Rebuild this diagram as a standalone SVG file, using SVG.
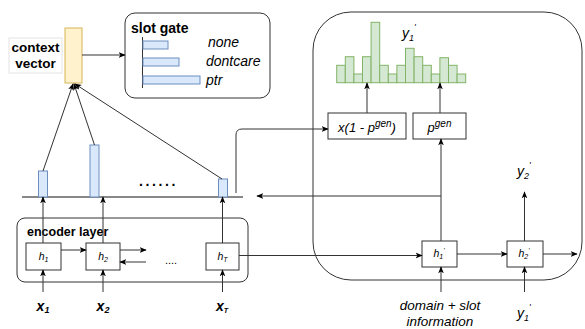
<svg xmlns="http://www.w3.org/2000/svg" width="585" height="329" viewBox="0 0 585 329">
<style>
.box{fill:#fff;stroke:#333;stroke-width:1}
.rbox{fill:none;stroke:#333;stroke-width:1}
.blue{fill:#dae8fc;stroke:#6c8ebf;stroke-width:1}
.green{fill:#d5e8d4;stroke:#82b366;stroke-width:1}
.ln{fill:none;stroke:#333;stroke-width:1}
.arr{fill:none;stroke:#333;stroke-width:1;marker-end:url(#ah)}
text{font-family:"Liberation Sans",Arial,sans-serif;fill:#000}
.b{font-weight:bold}
.i{font-style:italic}
.h{font-style:italic;font-size:10.5px;text-anchor:middle}
.x{font-style:italic;font-weight:bold;font-size:14px;text-anchor:middle}
</style>
<defs>
<marker id="ah" viewBox="0 0 10 10" refX="9" refY="5" markerWidth="7" markerHeight="7" orient="auto" markerUnits="userSpaceOnUse">
<path d="M0 1 L10 5 L0 9 L2.5 5 Z" fill="#000"/>
</marker>
</defs>

<g id="context-vector">
<rect x="9" y="38" width="53" height="35" fill="#fff" stroke="#e4e4e4"/>
<text x="35.5" y="52" class="b" font-size="13.5" text-anchor="middle">context</text>
<text x="35.5" y="68" class="b" font-size="13.5" text-anchor="middle">vector</text>
<rect x="65" y="28" width="17" height="55" fill="#fff2cc" stroke="#d6b656"/>
</g>

<g id="slot-gate">
<rect x="125" y="13" width="145" height="85" rx="10" class="rbox"/>
<text x="131" y="33" class="b" font-size="14">slot gate</text>
<line x1="142.5" y1="37" x2="142.5" y2="88" stroke="#333"/>
<rect x="143" y="41" width="25" height="8" class="blue"/>
<rect x="143" y="58" width="36" height="8" class="blue"/>
<rect x="143" y="76" width="57" height="8" class="blue"/>
<text x="208" y="47" class="i" font-size="14">none</text>
<text x="206" y="66" class="i" font-size="14">dontcare</text>
<text x="206" y="85" class="i" font-size="14">ptr</text>
</g>

<g id="attention">
<line x1="22" y1="197" x2="243" y2="197" stroke="#888" stroke-width="2"/>
<rect x="38.5" y="171" width="9" height="26" class="blue"/>
<rect x="90" y="145" width="9" height="52" class="blue"/>
<rect x="218.5" y="179" width="9" height="18" class="blue"/>
<text x="139" y="186" class="b" font-size="14" letter-spacing="2.6">......</text>
</g>

<g id="encoder-layer">
<rect x="17" y="218" width="231" height="64" rx="8" class="rbox"/>
<text x="27" y="236" class="b" font-size="12.5">encoder layer</text>
</g>
<g id="h1"><rect x="26" y="243" width="35" height="27" class="box"/><text x="43.5" y="260" class="h">h<tspan font-size="7" dy="2">1</tspan></text></g>
<g id="h2"><rect x="86" y="243" width="34" height="27" class="box"/><text x="103" y="260" class="h">h<tspan font-size="7" dy="2">2</tspan></text></g>
<g id="hT"><rect x="206" y="243" width="33" height="27" class="box"/><text x="222.5" y="260" class="h">h<tspan font-size="7" dy="2">T</tspan></text></g>
<text x="171" y="264" font-size="11" text-anchor="middle">....</text>

<g id="x-labels">
<text x="43" y="311" class="x">x<tspan font-size="9" dy="2">1</tspan></text>
<text x="103" y="311" class="x">x<tspan font-size="9" dy="2">2</tspan></text>
<text x="222" y="311" class="x">x<tspan font-size="7" dy="2">T</tspan></text>
</g>

<g id="decoder">
<rect x="313" y="12" width="269" height="268" rx="38" class="rbox"/>
</g>

<g id="distribution">
<rect x="336.7" y="65.3" width="8.6" height="17.4" class="green"/>
<rect x="345.3" y="56.7" width="8.6" height="26" class="green"/>
<rect x="353.9" y="74" width="8.6" height="8.7" class="green"/>
<rect x="362.5" y="56.7" width="8.6" height="26" class="green"/>
<rect x="371.1" y="22.3" width="8.6" height="60.4" class="green"/>
<rect x="379.7" y="65.3" width="8.6" height="17.4" class="green"/>
<rect x="388.3" y="74" width="8.6" height="8.7" class="green"/>
<rect x="396.9" y="65.3" width="8.6" height="17.4" class="green"/>
<rect x="405.5" y="48.3" width="8.6" height="34.4" class="green"/>
<rect x="414.1" y="56.7" width="8.6" height="26" class="green"/>
<rect x="422.7" y="65.3" width="8.6" height="17.4" class="green"/>
<rect x="431.3" y="74" width="8.6" height="8.7" class="green"/>
<rect x="439.9" y="57.7" width="8.6" height="25" class="green"/>
<rect x="448.5" y="65.3" width="8.6" height="17.4" class="green"/>
<rect x="457.1" y="74" width="8.6" height="8.7" class="green"/>
<text x="402" y="38" class="i" font-size="14">y<tspan font-size="9" dy="3">1</tspan><tspan font-size="9" dy="-11">'</tspan></text>
</g>

<g id="copy-box"><rect x="328" y="113" width="78" height="26" class="box"/>
<text x="367" y="132" class="i" font-size="13" text-anchor="middle">x(1 - p<tspan font-size="10" dy="-5">gen</tspan><tspan dy="5">)</tspan></text></g>
<g id="pgen-box"><rect x="413" y="113" width="53" height="26" class="box"/>
<text x="439.5" y="132" class="i" font-size="13" text-anchor="middle">p<tspan font-size="10" dy="-5">gen</tspan></text></g>

<g id="h1p"><rect x="422" y="241" width="35" height="26" class="box"/><text x="439" y="257" class="h">h<tspan font-size="7" dy="2">1</tspan><tspan font-size="7" dy="-6">'</tspan></text></g>
<g id="h2p"><rect x="507" y="241" width="36" height="26" class="box"/><text x="524" y="257" class="h">h<tspan font-size="7" dy="2">2</tspan><tspan font-size="7" dy="-6">'</tspan></text></g>

<text x="517" y="176" class="i" font-size="14">y<tspan font-size="9" dy="3">2</tspan><tspan font-size="9" dy="-11">'</tspan></text>
<text x="440" y="310" class="i" font-size="13.5" text-anchor="middle">domain + slot</text>
<text x="440" y="326" class="i" font-size="13.5" text-anchor="middle">information</text>
<text x="517" y="318" class="i" font-size="14">y<tspan font-size="9" dy="3">1</tspan><tspan font-size="9" dy="-11">'</tspan></text>

<g id="connectors">
<line x1="82" y1="55" x2="125" y2="55" class="arr"/>
<line x1="43" y1="171" x2="73" y2="84" class="arr"/>
<line x1="94.5" y1="145" x2="74" y2="84" class="arr"/>
<line x1="222" y1="179" x2="75" y2="84" class="arr"/>
<line x1="43" y1="243" x2="43" y2="197" class="arr"/>
<line x1="103" y1="243" x2="103" y2="197" class="arr"/>
<line x1="222.5" y1="243" x2="222.5" y2="197" class="arr"/>
<line x1="43" y1="292" x2="43" y2="270" class="arr"/>
<line x1="103" y1="292" x2="103" y2="270" class="arr"/>
<line x1="222.5" y1="292" x2="222.5" y2="270" class="arr"/>
<line x1="61" y1="250" x2="86" y2="250" class="arr"/>
<line x1="120" y1="250" x2="146" y2="250" class="arr"/>
<line x1="146" y1="262" x2="120" y2="262" class="arr"/>
<line x1="239" y1="255.5" x2="422" y2="255.5" class="arr"/>
<line x1="457" y1="254" x2="507" y2="254" class="arr"/>
<line x1="543" y1="254" x2="577" y2="254" class="arr"/>
<line x1="441" y1="292" x2="441" y2="267" class="arr"/>
<line x1="524.5" y1="292" x2="524.5" y2="267" class="arr"/>
<line x1="441" y1="241" x2="441" y2="139" class="arr"/>
<line x1="441" y1="196" x2="257" y2="196" class="arr"/>
<line x1="524.5" y1="241" x2="524.5" y2="192" class="arr"/>
<path d="M236 193 V135 Q236 129 242 129 H328" class="arr"/>
<line x1="367" y1="113" x2="367" y2="83" class="arr"/>
<line x1="440" y1="113" x2="440" y2="83" class="arr"/>
</g>
</svg>
